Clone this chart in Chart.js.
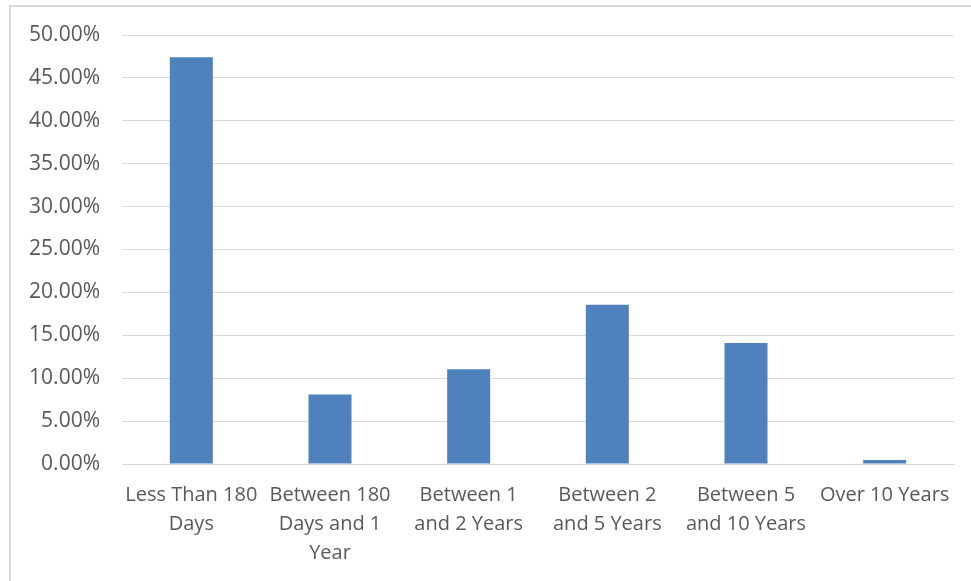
<!DOCTYPE html>
<html>
<head>
<meta charset="utf-8">
<script src="https://cdn.jsdelivr.net/npm/chart.js@4"></script>
<style>
  html, body { margin: 0; padding: 0; background: #fff; }
  #wrap { position: relative; width: 971px; height: 581px; overflow: hidden; }
  #frame {
    position: absolute; left: 9px; top: 5px; width: 990px; height: 620px;
    border-top: 2px solid #d9d9d9; border-left: 2px solid #d9d9d9;
  }
  canvas { position: absolute; left: 0; top: 0; }
</style>
</head>
<body>
<div id="wrap">
  <div id="frame"></div>
  <canvas id="chart" width="971" height="581"></canvas>
</div>
<script>
// Holding-period buckets (multi-line labels as shown under each bar)
const categories = [
  ["Less Than 180", "Days"],
  ["Between 180", "Days and 1", "Year"],
  ["Between 1", "and 2 Years"],
  ["Between 2", "and 5 Years"],
  ["Between 5", "and 10 Years"],
  "Over 10 Years"
];

// Share of holdings in each bucket, in percent
const shares = [47.4, 8.1, 11.05, 18.55, 14.1, 0.47];

// Value axis range and step, in percent
const axisMin = 0;
const axisMax = 50;
const axisStep = 5;

const gridColor = '#d9d9d9';
const textColor = '#595959';
const barColor = '#4f81bd';

Chart.defaults.font.family = '"Open Sans", "Liberation Sans", sans-serif';
Chart.defaults.font.size = 20;
Chart.defaults.color = textColor;

new Chart(document.getElementById('chart'), {
  type: 'bar',
  data: {
    labels: categories,
    datasets: [{
      data: shares,
      backgroundColor: barColor,
      borderWidth: 0,
      barPercentage: 0.31,
      categoryPercentage: 1
    }]
  },
  options: {
    responsive: false,
    animation: false,
    layout: { padding: { left: 10, right: 17, top: 35, bottom: 0 } },
    plugins: { legend: { display: false }, tooltip: { enabled: false } },
    scales: {
      x: {
        grid: { display: false, drawTicks: false },
        border: { display: true, color: gridColor, width: 1 },
        ticks: {
          padding: 17,
          maxRotation: 0,
          autoSkip: false,
          font: { size: 20, lineHeight: 1.45 }
        },
        afterFit: (scale) => { scale.height = 117; }
      },
      y: {
        min: axisMin,
        max: axisMax,
        grid: { color: gridColor, lineWidth: 1, drawTicks: false },
        border: { display: false },
        ticks: {
          stepSize: axisStep,
          padding: 22,
          font: { size: 21 },
          callback: (v) => v.toFixed(2) + '%'
        },
        afterFit: (scale) => { scale.width = 112; }
      }
    }
  }
});
</script>
</body>
</html>
